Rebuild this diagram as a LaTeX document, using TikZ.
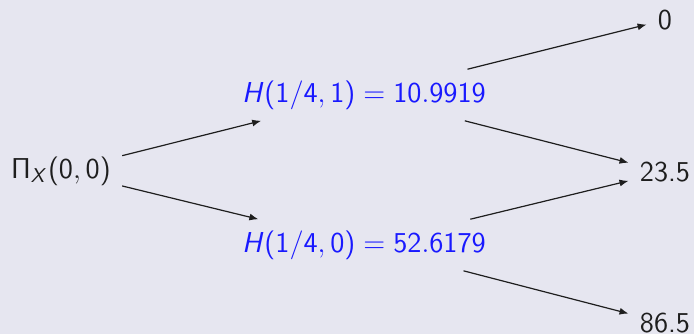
\documentclass[tikz,border=0pt]{standalone}
\usetikzlibrary{arrows.meta}
\DeclareSymbolFont{operators}{OT1}{cmss}{m}{n}
\SetSymbolFont{operators}{bold}{OT1}{cmss}{bx}{n}
\DeclareMathAlphabet{\mathsfit}{OT1}{cmss}{m}{sl}
\definecolor{bg}{RGB}{230,230,240}
\definecolor{hblue}{RGB}{25,25,255}
\definecolor{ink}{RGB}{30,30,30}
\begin{document}
\begin{tikzpicture}[x=0.5pt,y=-0.5pt,
  lbl/.style={font=\fontsize{14.4}{17}\selectfont\sffamily, inner sep=5.5pt, text=ink},
  hval/.style={lbl, text=hblue},
  conn/.style={-{Latex[length=4.5pt,width=3.5pt]}, line width=0.6pt, draw=ink}]
  \fill[bg] (0,0) rectangle (694,334);
  \useasboundingbox (0,0) rectangle (694,334);
  \node[lbl]  (P)  at (61,171)  {$\Pi_{\mathsfit{X}}(0,0)$};
  \node[hval] (H1) at (364,95)  {$\mathsfit{H}(1/4,1) = 10.9919$};
  \node[hval] (H0) at (364,245) {$\mathsfit{H}(1/4,0) = 52.6179$};
  \node[lbl]  (Z)  at (665,20)  {0};
  \node[lbl]  (M)  at (665,172) {23.5};
  \node[lbl]  (E)  at (665,323) {86.5};
  \draw[conn] (P) -- (H1);
  \draw[conn] (P) -- (H0);
  \draw[conn] (H1) -- (Z);
  \draw[conn] (H1) -- (M);
  \draw[conn] (H0) -- (M);
  \draw[conn] (H0) -- (E);
\end{tikzpicture}
\end{document}
